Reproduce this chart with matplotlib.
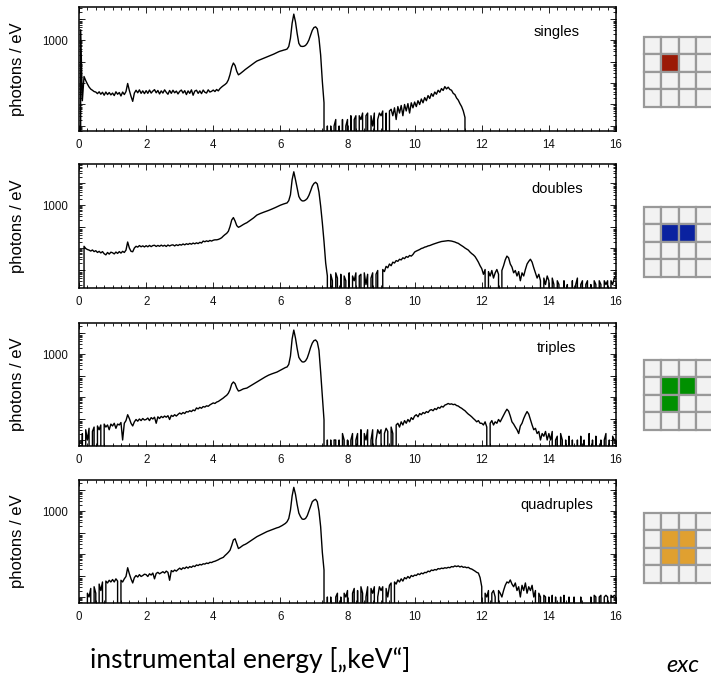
import numpy as np
import matplotlib
matplotlib.use("Agg")
import matplotlib.pyplot as plt
from matplotlib.patches import Rectangle
from matplotlib.ticker import MultipleLocator, FixedLocator, FuncFormatter, NullFormatter

# energy grid in keV (0.05 keV bins, 0 .. 16)
energy = np.round(np.arange(321) * 0.05, 2)

# photons / eV, one line per keV (20 bins each) plus the 16 keV end point
singles = [
    0, 3000, 1.5, 20, 13, 9.0, 6.5, 5.2, 4.6, 4.0, 3.8, 3.2, 3.9, 3.0, 3.7, 2.7, 3.8, 2.9, 3.6, 2.8,
    3.4, 2.6, 3.9, 3.0, 3.6, 2.5, 3.8, 2.9, 4.0, 9.5, 4.5, 2.4, 1.4, 3.4, 4.6, 3.5, 4.8, 3.3, 4.3, 3.2,
    4.4, 3.3, 4.7, 3.4, 4.2, 4.9, 3.5, 4.5, 3.1, 4.3, 3.4, 4.8, 3.7, 3.0, 4.5, 3.3, 4.6, 3.5, 4.2, 3.1,
    4.1, 4.7, 3.4, 4.4, 2.9, 4.3, 3.3, 4.8, 2.7, 4.2, 4.6, 3.3, 4.3, 3.2, 4.7, 3.7, 3.4, 4.8, 3.8, 4.1,
    4.7, 4.0, 5.0, 4.3, 5.5, 6.5, 7.5, 8.5, 10, 14, 25, 55, 85, 65, 35, 24, 27, 31, 36, 42,
    48, 55, 63, 72, 82, 93, 105, 113, 122, 131, 141, 152, 164, 176, 190, 205, 220, 240, 265, 285,
    305, 320, 340, 355, 380, 500, 1200, 6000, 16000, 7000, 2000, 700, 520, 500, 510, 560, 700, 1000, 1700, 2800,
    3800, 4100, 3300, 1200, 200, 12, 1.2, 0, 0.1, 0, 0.1, 0, 0.1, 0.2, 0, 0.1, 0, 0.2, 0, 0.1,
    0.2, 0, 0.3, 0, 0.2, 0.3, 0, 0.3, 0.2, 0.4, 0, 0.3, 0.4, 0, 0.3, 0.1, 0.4, 0, 0.2, 0.4,
    0.3, 0.5, 0, 0.4, 0, 0.5, 0.6, 0.3, 0.7, 0.2, 0.8, 0.4, 0.9, 0.3, 1.0, 0.5, 1.1, 0.4, 1.2, 0.7,
    1.3, 0.8, 1.5, 1.0, 1.8, 1.2, 2.1, 1.5, 2.6, 1.9, 3.2, 2.4, 3.8, 3.0, 4.6, 3.7, 5.5, 4.5, 6.8, 5.3,
    6.4, 5.0, 4.6, 3.3, 2.9, 2.0, 1.6, 1.1, 0.8, 0.5, 0.25, 0, 0, 0, 0, 0, 0, 0, 0, 0,
    0, 0, 0, 0, 0, 0, 0, 0, 0, 0, 0, 0, 0, 0, 0, 0, 0, 0, 0, 0,
    0, 0, 0, 0, 0, 0, 0, 0, 0, 0, 0, 0, 0, 0, 0, 0, 0, 0, 0, 0,
    0, 0, 0, 0, 0, 0, 0, 0, 0, 0, 0, 0, 0, 0, 0, 0, 0, 0, 0, 0,
    0, 0, 0, 0, 0, 0, 0, 0, 0, 0, 0, 0, 0, 0, 0, 0, 0, 0, 0, 0,
    0,
]

doubles = [
    0, 0, 0, 12, 9.5, 8.5, 8.0, 7.2, 8.1, 6.8, 7.5, 6.2, 7.0, 5.9, 6.8, 5.4, 4.8, 6.2, 5.2, 6.4,
    6.0, 5.3, 6.5, 5.6, 6.8, 5.8, 7.0, 6.2, 8.0, 19, 10, 7.0, 6.7, 10, 12, 11.0, 13.0, 11.4, 12.6, 11.2,
    12.8, 11.4, 13.2, 11.6, 13.0, 13.4, 11.8, 13.2, 12.0, 13.6, 12.2, 13.4, 11.8, 13.8, 12.4, 13.6, 14.0, 12.5, 14.2, 13.0,
    14.6, 13.6, 15.4, 14.0, 15.8, 14.6, 16.4, 15.0, 17.0, 15.6, 17.4, 16.0, 18.4, 17.0, 21, 19.5, 21.5, 20, 22.5, 21,
    23, 24, 24, 25, 27, 30, 36, 42, 48, 60, 100, 200, 260, 180, 110, 92, 100, 112, 125, 138,
    150, 170, 195, 220, 250, 290, 340, 370, 400, 430, 460, 490, 520, 560, 600, 650, 700, 760, 830, 900,
    980, 1050, 1120, 1180, 1250, 1600, 3000, 15000, 35000, 15000, 6000, 2500, 1800, 1550, 1550, 1700, 2000, 2800, 4500, 7500,
    10000, 11400, 9500, 4000, 900, 150, 20, 2.0, 0.5, 0, 0.6, 0.3, 0, 0.7, 0.4, 0, 0.6, 0, 0.5, 0.3,
    0, 0.7, 0, 0.5, 0.3, 0.7, 0, 0.5, 0.6, 0, 0.7, 0.2, 0.6, 0, 0.4, 0.7, 0, 0.6, 0.9, 0,
    0, 1.0, 0.8, 1.4, 1.2, 1.8, 1.5, 2.2, 2.0, 2.6, 2.4, 3.0, 2.8, 3.5, 3.2, 4.0, 3.7, 4.5, 4.2, 5.0,
    6.5, 7.2, 7.8, 8.5, 9.5, 10, 11, 11.5, 12.5, 13, 14, 15, 16, 17, 18, 19, 20, 20.5, 21, 21.5,
    22, 21.5, 21, 20, 19, 17.5, 16.5, 14.5, 13, 11.5, 10, 9, 8, 6.5, 5.5, 4.8, 4.0, 3.0, 2.2, 1.5,
    1.1, 0.6, 1.0, 0, 0.8, 0.5, 0.9, 0.4, 0.7, 1.0, 0.6, 0, 0.9, 1.5, 2.8, 4.2, 3.5, 1.8, 1.3, 0.7,
    0.9, 0.5, 0.8, 0.3, 0.7, 0.5, 1.0, 1.8, 2.4, 3.0, 2.2, 1.2, 0.7, 0.4, 0.6, 0.3, 0, 0.4, 0.2, 0.5,
    0.3, 0, 0.4, 0.2, 0, 0.3, 0.2, 0, 0, 0.3, 0, 0.2, 0, 0, 0.3, 0, 0.2, 0.4, 0, 0.2,
    0.3, 0, 0.2, 0.3, 0, 0.2, 0, 0.3, 0.2, 0, 0.3, 0.2, 0, 0.3, 0.2, 0.3, 0, 0.3, 0.2, 0.4,
    0.5,
]

triples = [
    0, 0, 0.2, 0, 0.3, 0.1, 0.35, 0, 0.25, 0.4, 0, 0.45, 0.3, 0.5, 0, 0.55, 0.4, 0.5, 0.3, 0.55,
    0.45, 0.6, 0.35, 0.55, 0.5, 0.65, 0.1, 0.6, 0.8, 1.5, 1.0, 0.6, 0.45, 0.7, 0.9, 0.75, 0.95, 0.8, 1.0, 0.85,
    0.9, 1.05, 0.8, 1.1, 0.95, 1.15, 0.6, 1.2, 1.0, 1.25, 1.1, 1.3, 1.15, 1.35, 0.9, 1.4, 1.25, 1.5, 1.3, 1.55,
    1.8, 1.6, 1.9, 1.7, 2.1, 2.0, 2.3, 2.1, 2.5, 2.3, 3.1, 2.8, 3.3, 3.0, 3.6, 3.4, 3.9, 3.7, 4.3, 4.8,
    5.3, 5.0, 5.8, 6.2, 7.0, 8.0, 9.0, 10.5, 12, 15, 22, 40, 50, 42, 26, 19, 20, 22, 24, 25,
    26, 29, 32, 36, 40, 45, 50, 56, 62, 70, 78, 86, 95, 104, 112, 120, 128, 136, 145, 160,
    175, 195, 215, 235, 250, 330, 800, 5000, 13000, 5500, 1800, 700, 525, 430, 425, 480, 650, 1100, 2000, 3200,
    4200, 4500, 3600, 1500, 145, 12, 0.86, 0, 0.1, 0, 0.1, 0, 0.1, 0.1, 0, 0.1, 0, 0.2, 0.1, 0,
    0.1, 0, 0.1, 0.2, 0, 0.1, 0.2, 0, 0.3, 0, 0.2, 0.1, 0.3, 0, 0.1, 0.3, 0, 0.1, 0.3, 0.2,
    0.3, 0, 0.2, 0.35, 0.25, 0, 0.4, 0.2, 0, 0.5, 0.6, 0.4, 0.7, 0.5, 0.8, 0.6, 0.9, 0.7, 1.1, 0.9,
    1.3, 1.5, 1.2, 1.7, 1.5, 1.9, 1.7, 2.1, 1.9, 2.4, 2.6, 2.3, 2.9, 2.6, 3.3, 3.0, 3.7, 3.4, 4.2, 4.5,
    5.0, 4.6, 4.8, 4.4, 4.6, 4.0, 3.8, 3.3, 3.0, 2.6, 2.3, 1.9, 1.6, 1.4, 1.2, 1.0, 0.85, 0.7, 0.8, 0.6,
    0.6, 0.5, 0.7, 0.4, 0, 0.6, 0.8, 0.5, 0.7, 0.6, 0.9, 0.7, 1.0, 1.4, 2.0, 2.7, 2.2, 1.3, 0.7, 0.55,
    0.4, 0.3, 0.2, 0.45, 0.6, 1.0, 1.5, 2.1, 1.6, 0.9, 0.5, 0.3, 0.35, 0.2, 0.25, 0.1, 0.2, 0.15, 0.25, 0.1,
    0.2, 0.1, 0.25, 0, 0.1, 0.15, 0, 0.2, 0.1, 0, 0.1, 0, 0.15, 0, 0.1, 0, 0, 0.1, 0, 0.15,
    0, 0.1, 0, 0, 0.2, 0, 0.1, 0, 0.15, 0, 0, 0.1, 0, 0.1, 0.2, 0, 0.1, 0, 0.15, 0.1,
    0.1,
]

quadruples = [
    0, 0, 0, 0, 0, 0.15, 0.1, 0.25, 0, 0.3, 0.15, 0, 0.4, 0.2, 0.5, 0, 0.55, 0.45, 0.6, 0.5,
    0.65, 0.5, 0.7, 0.55, 0, 0.6, 0.5, 0.7, 0.9, 2.3, 1.2, 0.7, 0.45, 0.8, 1.0, 0.85, 1.1, 0.9, 1.0, 1.15,
    1.1, 0.9, 1.2, 1.05, 1.3, 0.7, 1.25, 1.4, 1.2, 1.35, 1.5, 1.3, 1.6, 1.4, 0.6, 1.7, 1.5, 1.8, 1.6, 1.9,
    2.2, 1.9, 2.3, 2.1, 2.5, 2.2, 2.6, 2.4, 2.8, 2.6, 3.1, 2.9, 3.3, 3.1, 3.5, 3.4, 3.8, 3.6, 4.1, 4.0,
    4.4, 4.6, 5.0, 5.4, 6.0, 6.5, 7.0, 8.5, 10, 12, 15, 25, 45, 51, 30, 18, 20, 23, 26, 28,
    31, 35, 39, 44, 50, 57, 64, 70, 77, 84, 92, 100, 110, 118, 127, 136, 146, 156, 166, 174,
    190, 210, 235, 265, 318, 450, 1100, 5000, 12600, 6000, 2000, 800, 545, 420, 410, 450, 600, 1000, 1700, 2700,
    3200, 3500, 2700, 1000, 186, 12, 1.8, 0, 0.1, 0, 0.1, 0, 0, 0.1, 0.15, 0, 0.1, 0, 0.15, 0.1,
    0.2, 0, 0, 0.15, 0.25, 0, 0.2, 0, 0.3, 0.15, 0, 0.1, 0.3, 0, 0.25, 0.15, 0.3, 0, 0.1, 0.3,
    0.2, 0.3, 0, 0.25, 0.1, 0.35, 0.45, 0, 0.5, 0.4, 0.62, 0.5, 0.7, 0.55, 0.8, 0.7, 0.9, 0.75, 1.0, 0.9,
    1.05, 1.0, 1.2, 1.1, 1.3, 1.2, 1.4, 1.35, 1.6, 1.5, 1.8, 1.7, 1.9, 1.8, 2.1, 2.0, 2.2, 2.1, 2.3, 2.2,
    2.4, 2.3, 2.6, 2.5, 2.8, 2.6, 2.8, 2.5, 2.7, 2.4, 2.5, 2.3, 2.4, 2.1, 2.0, 1.8, 1.6, 1.4, 1.3, 0.8,
    0.3, 0, 0.15, 0.1, 0.2, 0, 0.15, 0.2, 0.1, 0, 0.2, 0.15, 0.1, 0.2, 0.35, 0.5, 0.45, 0.62, 0.4, 0.3,
    0.45, 0.2, 0.3, 0.1, 0.35, 0.2, 0.45, 0.15, 0.3, 0.2, 0.35, 0.1, 0.2, 0, 0.15, 0.1, 0, 0.12, 0.1, 0,
    0.1, 0, 0.12, 0, 0.1, 0, 0, 0.1, 0, 0.12, 0, 0, 0.1, 0, 0, 0.1, 0, 0, 0, 0.1,
    0, 0, 0, 0, 0, 0.1, 0, 0.12, 0.1, 0, 0.1, 0.12, 0, 0.1, 0.12, 0.1, 0, 0.12, 0.1, 0.12,
    0.1,
]

panel_names = ["singles", "doubles", "triples", "quadruples"]
spectra = [singles, doubles, triples, quadruples]

# pixel-event patterns: (row, column) of the hit pixels in a 4 x 5 grid
patterns = [
    [(1, 1)],
    [(1, 1), (1, 2)],
    [(1, 1), (1, 2), (2, 1)],
    [(1, 1), (1, 2), (2, 1), (2, 2)],
]
pattern_colors = ["#9b1a06", "#0a22a0", "#009000", "#e0a030"]

W, H = 711, 684
fig = plt.figure(figsize=(W / 100, H / 100), dpi=100)

# axes boxes in pixels: (top, bottom) and y-range of each panel
axes_px = [(7, 131), (164, 288), (323, 446), (480, 603)]
y_ranges = [(0.0585, 34300), (0.138, 80700), (0.0526, 27700), (0.0526, 27700)]
icon_px = [37, 207, 360, 513]
left_px, right_px = 79, 616

sans = ["Liberation Sans", "DejaVu Sans"]

for k in range(4):
    top, bot = axes_px[k]
    ax = fig.add_axes([left_px / W, 1 - bot / H, (right_px - left_px) / W, (bot - top) / H])
    ax.plot(energy, spectra[k], color="black", lw=1.0)
    ax.set_yscale("log", nonpositive="clip")
    ax.set_xlim(0, 16)
    ax.set_ylim(*y_ranges[k])

    ax.xaxis.set_major_locator(MultipleLocator(2))
    ax.xaxis.set_minor_locator(MultipleLocator(0.25))
    ax.yaxis.set_major_locator(FixedLocator([10.0 ** p for p in range(-2, 6)]))
    ax.yaxis.set_minor_locator(FixedLocator([m * 10.0 ** p for p in range(-2, 6) for m in range(2, 10)]))
    ax.yaxis.set_major_formatter(FuncFormatter(lambda v, pos: "1000" if abs(v - 1000) < 1 else ""))
    ax.yaxis.set_minor_formatter(NullFormatter())
    ax.tick_params(which="both", direction="in", top=True, right=True, width=0.6, colors="black")
    ax.tick_params(which="major", length=4, pad=6)
    ax.tick_params(which="minor", length=2)
    ax.tick_params(axis="y", which="major", pad=8)
    for lab in ax.get_xticklabels() + ax.get_yticklabels():
        lab.set_fontfamily(sans)
        lab.set_fontsize(8.3)
        lab.set_color("#111111")
    for sp in ax.spines.values():
        sp.set_linewidth(1.1)

    ax.set_ylabel("photons / eV", fontsize=12, family=sans, labelpad=12)
    ax.text(0.89, 0.80, panel_names[k], transform=ax.transAxes, ha="center", va="center",
            fontsize=10.5, family=sans)

    # pixel grid icon
    itop = icon_px[k]
    pitch = 17.4
    iax = fig.add_axes([644 / W, 1 - (itop + 4 * pitch) / H, 5 * pitch / W, 4 * pitch / H])
    iax.set_xlim(0, 5)
    iax.set_ylim(4, 0)
    iax.axis("off")
    hit = set(patterns[k])
    for r in range(4):
        for c in range(5):
            face = pattern_colors[k] if (r, c) in hit else "#f2f2f2"
            iax.add_patch(Rectangle((c, r), 1, 1, facecolor=face, edgecolor="#999999",
                                    lw=1.6, clip_on=False))

fig.text(250 / W, 1 - 660 / H, "instrumental energy [\u201ekeV\u201c]", ha="center", va="center",
         fontsize=19, family=["Lato", "DejaVu Sans"])
fig.text(666 / W, 1 - 666 / H, "exc", ha="left", va="center", fontsize=17, style="italic",
         family=["Lato", "DejaVu Sans"])

fig.savefig("out.png", dpi=100)
